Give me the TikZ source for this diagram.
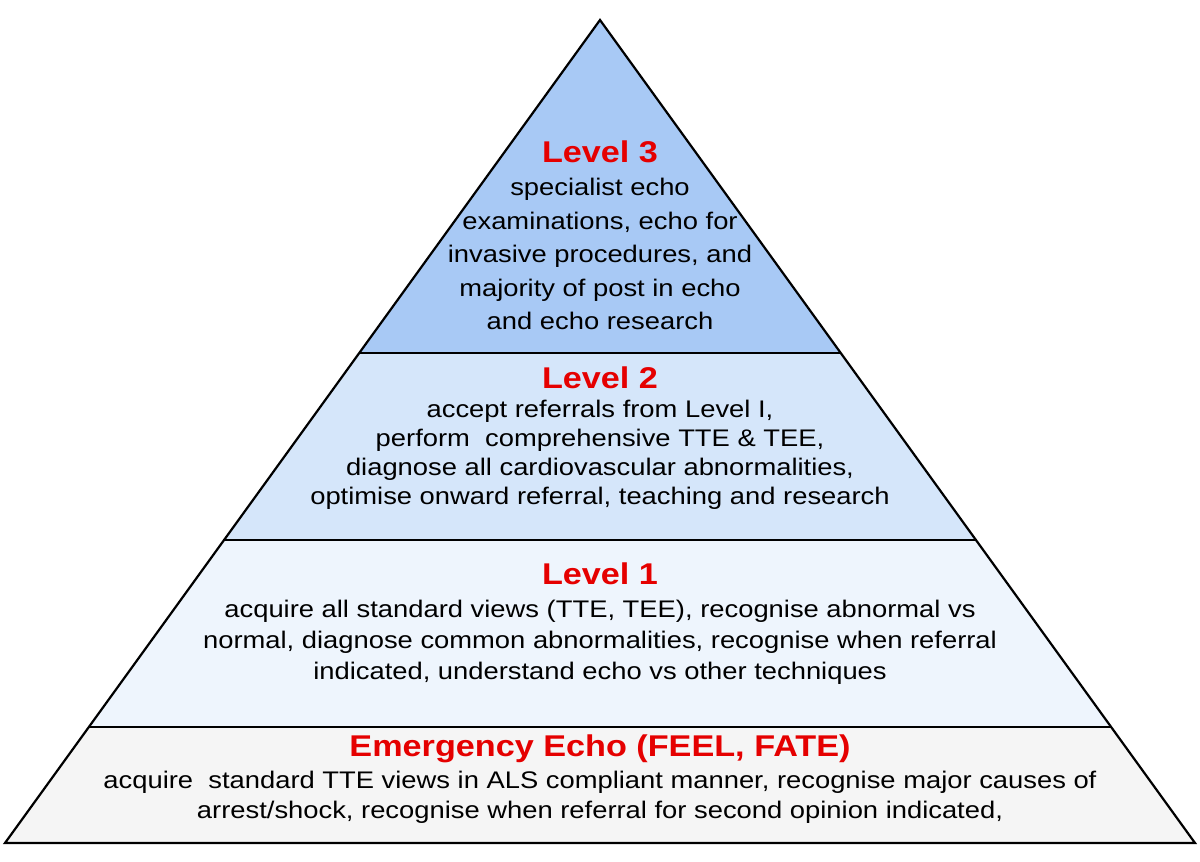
\documentclass[tikz,border=0pt]{standalone}
\usepackage{fontspec}
\setmainfont{Liberation Sans}[FakeStretch=1.14]
\begin{document}
\begin{tikzpicture}[x=1pt,y=-1pt,
  layer/.style={draw=black,line width=2.2pt,line join=miter},
  ttl/.style={font=\fontsize{30}{32}\selectfont\bfseries,text=red!90!black,inner sep=0pt},
  body/.style={align=center,inner sep=0pt}]
\useasboundingbox (0,0) rectangle (1200,862);
\definecolor{c3}{HTML}{A8C9F5}
\definecolor{c2}{HTML}{D5E6FA}
\definecolor{c1}{HTML}{EEF5FD}
\definecolor{c0}{HTML}{F5F5F5}
\coordinate (A) at (600,20);
\fill[c0] (89,727) -- (1111,727) -- (1195,843) -- (5,843) -- cycle;
\fill[c1] (224,540) -- (976,540) -- (1111,727) -- (89,727) -- cycle;
\fill[c2] (359,353) -- (841,353) -- (976,540) -- (224,540) -- cycle;
\fill[c3] (A) -- (841,353) -- (359,353) -- cycle;
\draw[layer] (A) -- (1195,843) -- (5,843) -- cycle;
\draw[layer] (359,353) -- (841,353);
\draw[layer] (224,540) -- (976,540);
\draw[layer] (89,727) -- (1111,727);
\node[ttl] (t3) at (600,152) {Level 3};
\node[body,font=\fontsize{24}{33.5}\selectfont] (b3) at (600,254) {specialist echo\\examinations, echo for\\invasive procedures, and\\majority of post in echo\\and echo research};
\node[ttl] (t2) at (600,378) {Level 2};
\node[body,font=\fontsize{24}{29}\selectfont] (b2) at (600,455) {accept referrals from Level I,\\perform\ \ comprehensive TTE \& TEE,\\diagnose all cardiovascular abnormalities,\\optimise onward referral, teaching and research};
\node[ttl] (t1) at (600,574) {Level 1};
\node[body,font=\fontsize{24}{31}\selectfont] (b1) at (600,642) {acquire all standard views (TTE, TEE), recognise abnormal vs\\normal, diagnose common abnormalities, recognise when referral\\indicated, understand echo vs other techniques};
\node[ttl] (t0) at (600,749) {Emergency Echo (FEEL, FATE)};
\node[body,font=\fontsize{24}{30}\selectfont] (b0) at (600,797) {acquire\ \ standard TTE views in ALS compliant manner, recognise major causes of\\arrest/shock, recognise when referral for second opinion indicated,};
\end{tikzpicture}
\end{document}
